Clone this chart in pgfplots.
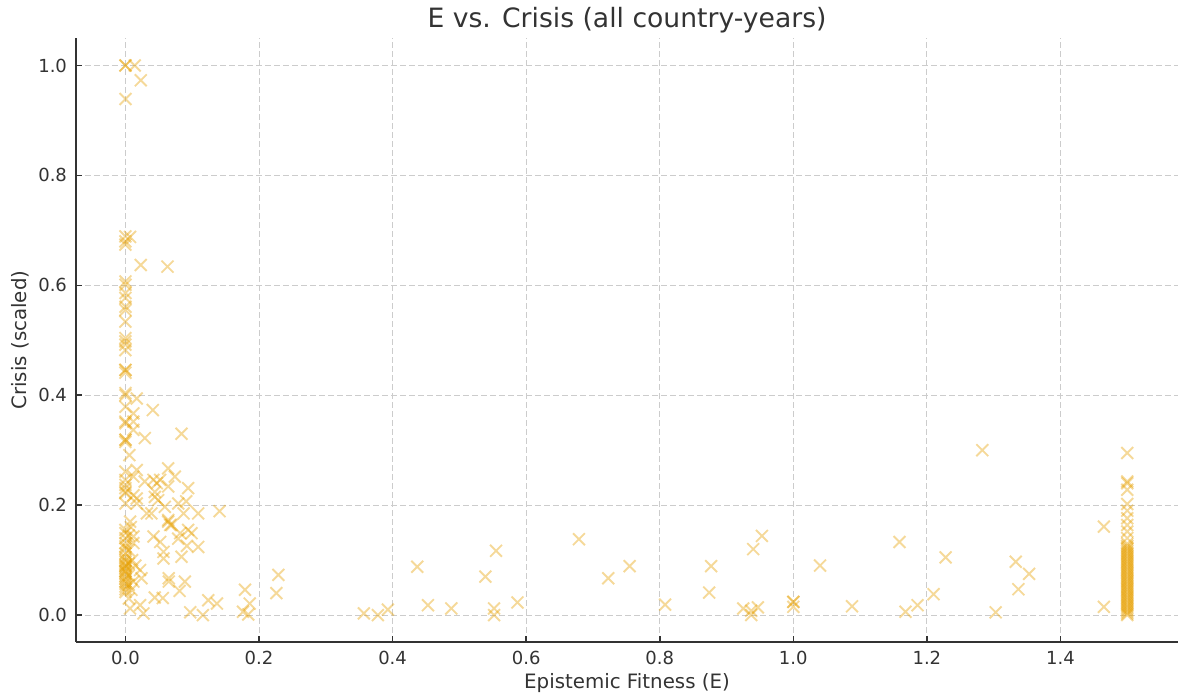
\documentclass[border=0pt]{standalone}
\usepackage{fontspec}
\setmainfont{DejaVu Sans}
\usepackage{pgfplots}
\usepackage{pgfplotstable}
\pgfplotsset{compat=1.18}
\definecolor{mk}{HTML}{E69F00}
\definecolor{txt}{HTML}{333333}
\definecolor{gridc}{HTML}{CCCCCC}

\pgfplotstableread{
x y
0 1.0
0 1.0
0.014 1.0
0.023 0.973
0 0.939
0 0.689
0.007 0.688
0 0.680
0 0.674
0 0.607
0 0.601
0 0.586
0 0.577
0 0.561
0 0.555
0 0.534
0 0.504
0 0.498
0 0.492
0 0.482
0.023 0.637
0.063 0.634
0 0.446
0 0.446
0 0.441
0 0.404
0 0.400
0.017 0.394
0 0.379
0.012 0.367
0.041 0.373
0 0.352
0 0.349
0.012 0.352
0.012 0.337
0.084 0.330
0.029 0.322
0 0.319
0 0.319
0 0.315
0.006 0.291
0 0.261
0.017 0.264
0.064 0.267
0.074 0.252
0 0.246
0 0.237
0 0.231
0.012 0.252
0.029 0.243
0.042 0.246
0.047 0.240
0.052 0.246
0.064 0.234
0.094 0.231
0 0.222
0.012 0.218
0.044 0.215
0 0.224
0.017 0.212
0.044 0.224
0 0.203
0.017 0.203
0.049 0.209
0.059 0.197
0.091 0.207
0.079 0.203
0.032 0.185
0.039 0.185
0.064 0.173
0.067 0.164
0.087 0.185
0.109 0.185
0.141 0.189
0.007 0.170
0.064 0.170
0.069 0.164
0 0.149
0.012 0.143
0.042 0.143
0.052 0.133
0.082 0.149
0.094 0.155
0.099 0.149
0.079 0.139
0.092 0.126
0.109 0.124
0 0.131
0 0.121
0 0.112
0.012 0.131
0.057 0.103
0.084 0.106
0.057 0.115
0 0.097
0 0.088
0 0.079
0 0.070
0 0.061
0 0.052
0 0.042
0.022 0.082
0.024 0.067
0.012 0.061
0.009 0.046
0.065 0.067
0.065 0.061
0.089 0.061
0.081 0.044
0.044 0.032
0.056 0.031
0.124 0.027
0.137 0.021
0.007 0.012
0.022 0.018
0.027 0.003
0.097 0.005
0.116 0.0
0.179 0.046
0.186 0.021
0.176 0.006
0.184 0.001
0.229 0.073
0.226 0.040
0 0.155
0 0.140
0 0.125
0 0.105
0 0.092
0 0.084
0 0.075
0 0.066
0 0.057
0 0.047
0 0.100
0 0.090
0 0.080
0.005 0.145
0.005 0.118
0.005 0.094
0.005 0.072
0.005 0.055
0.005 0.030
0.008 0.160
0.010 0.100
0.015 0.090
0.357 0.003
0.378 0.000
0.393 0.010
0.437 0.088
0.453 0.018
0.488 0.012
0.539 0.070
0.555 0.117
0.552 0.012
0.552 0.000
0.587 0.023
0.679 0.138
0.723 0.067
0.755 0.089
0.808 0.019
0.874 0.041
0.877 0.089
0.925 0.012
0.937 0.008
0.937 0.000
0.947 0.014
0.940 0.120
0.953 0.144
1.000 0.024
1.000 0.024
1.000 0.015
1.040 0.090
1.088 0.016
1.159 0.133
1.168 0.006
1.186 0.018
1.210 0.038
1.228 0.105
1.283 0.300
1.303 0.005
1.333 0.097
1.337 0.047
1.353 0.075
1.465 0.161
1.465 0.015
1.5 0.295
1.5 0.243
1.5 0.240
1.5 0.228
1.5 0.202
1.5 0.190
1.5 0.176
1.5 0.164
1.5 0.152
1.5 0.140
1.5 0.130
1.5 0.126
1.5 0.123
1.5 0.120
1.5 0.117
1.5 0.114
1.5 0.111
1.5 0.108
1.5 0.105
1.5 0.102
1.5 0.099
1.5 0.096
1.5 0.093
1.5 0.090
1.5 0.087
1.5 0.084
1.5 0.081
1.5 0.078
1.5 0.075
1.5 0.072
1.5 0.069
1.5 0.066
1.5 0.063
1.5 0.060
1.5 0.057
1.5 0.054
1.5 0.051
1.5 0.048
1.5 0.045
1.5 0.042
1.5 0.039
1.5 0.036
1.5 0.033
1.5 0.030
1.5 0.027
1.5 0.024
1.5 0.021
1.5 0.018
1.5 0.015
1.5 0.012
1.5 0.009
1.5 0.006
1.5 0.003
1.5 0.000
}\pts

\begin{document}
\begin{tikzpicture}
\begin{axis}[
  scale only axis,
  width=551pt, height=302pt,
  xmin=-0.074, xmax=1.576,
  ymin=-0.049, ymax=1.050,
  axis lines=left,
  axis line style={-, draw=txt, line width=0.8pt},
  xtick={0,0.2,0.4,0.6,0.8,1.0,1.2,1.4},
  ytick={0,0.2,0.4,0.6,0.8,1.0},
  xticklabels={0.0,0.2,0.4,0.6,0.8,1.0,1.2,1.4},
  yticklabels={0.0,0.2,0.4,0.6,0.8,1.0},
  tick align=inside,
  major tick length=3pt,
  tick style={draw=txt, line width=0.8pt},
  grid=major,
  major grid style={draw=gridc, line width=0.45pt, dash pattern=on 3pt off 1.5pt},
  ticklabel style={font=\fontsize{9}{11}\selectfont, text=txt},
  yticklabel style={xshift=-1pt},
  xticklabel style={yshift=-1pt},
  title={E vs. Crisis (all country-years)},
  every axis title shift=0pt,
  every axis title/.style={at={(axis description cs:0.5,1)}, anchor=center, yshift=9pt, font=\fontsize{13.3}{15}\selectfont, text=txt},
  xlabel={Epistemic Fitness (E)},
  ylabel={Crisis (scaled)},
  every axis x label/.style={at={(axis description cs:0.5,0)}, anchor=center, yshift=-20.5pt, font=\fontsize{9.9}{12}\selectfont, text=txt},
  every axis y label/.style={at={(axis description cs:0,0.5)}, anchor=center, xshift=-28pt, rotate=90, font=\fontsize{9.9}{12}\selectfont, text=txt},
  clip=false,
]
\addplot[only marks, mark=x, mark size=4.2pt, mark options={draw=mk, line width=0.95pt, draw opacity=0.4}] table {\pts};
\coordinate (ll) at (rel axis cs:0,0);
\coordinate (ur) at (rel axis cs:1,1);
\end{axis}
\pgfresetboundingbox
\path ([shift={(-38pt,-27.5pt)}]ll) rectangle ([shift={(1pt,19pt)}]ur);
\end{tikzpicture}
\end{document}
